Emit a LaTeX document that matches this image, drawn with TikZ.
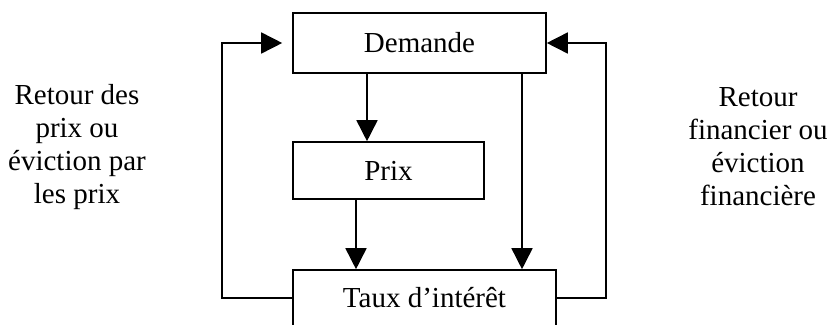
\documentclass[tikz,border=0pt]{standalone}
\usepackage{fontspec}
\setmainfont{Liberation Serif}
\usetikzlibrary{arrows.meta}
\begin{document}
\begin{tikzpicture}[x=1pt,y=-1pt,
  box/.style={draw,line width=1.6pt,inner sep=0pt,font=\fontsize{29}{33}\selectfont},
  arr/.style={line width=1.6pt,-{Triangle[length=21pt,width=21pt]}},
  lbl/.style={align=center,inner sep=0pt,font=\fontsize{29}{33}\selectfont}]
\useasboundingbox (0,0) rectangle (829,324);
\clip (0,0) rectangle (829,324);
\node[box,minimum width=253pt,minimum height=60pt] (dem) at (419.5,43) {Demande};
\node[box,minimum width=191pt,minimum height=57pt] (prix) at (388.5,170.5) {Prix};
\node[box,minimum width=263pt,minimum height=56pt] (taux) at (424.5,298) {Taux d’intérêt};
\coordinate (xa) at (367,0);
\coordinate (xb) at (356,0);
\coordinate (xc) at (522,0);
\coordinate (xl) at (222,0);
\coordinate (xr) at (606,0);
\draw[arr] (dem.south -| xa) -- (prix.north -| xa);
\draw[arr] (prix.south -| xb) -- (taux.north -| xb);
\draw[arr] (dem.south -| xc) -- (taux.north -| xc);
\draw[arr,shorten >=10pt] (taux.west) -- (taux.west -| xl) -- (dem.west -| xl) -- (dem.west);
\draw[arr] (taux.east) -- (taux.east -| xr) -- (dem.east -| xr) -- (dem.east);
\node[lbl] (gauche) at (77,147) {Retour des\\prix ou\\éviction par\\les prix};
\node[lbl] (droite) at (758,147) {Retour\\financier ou\\éviction\\financière};
\end{tikzpicture}
\end{document}
